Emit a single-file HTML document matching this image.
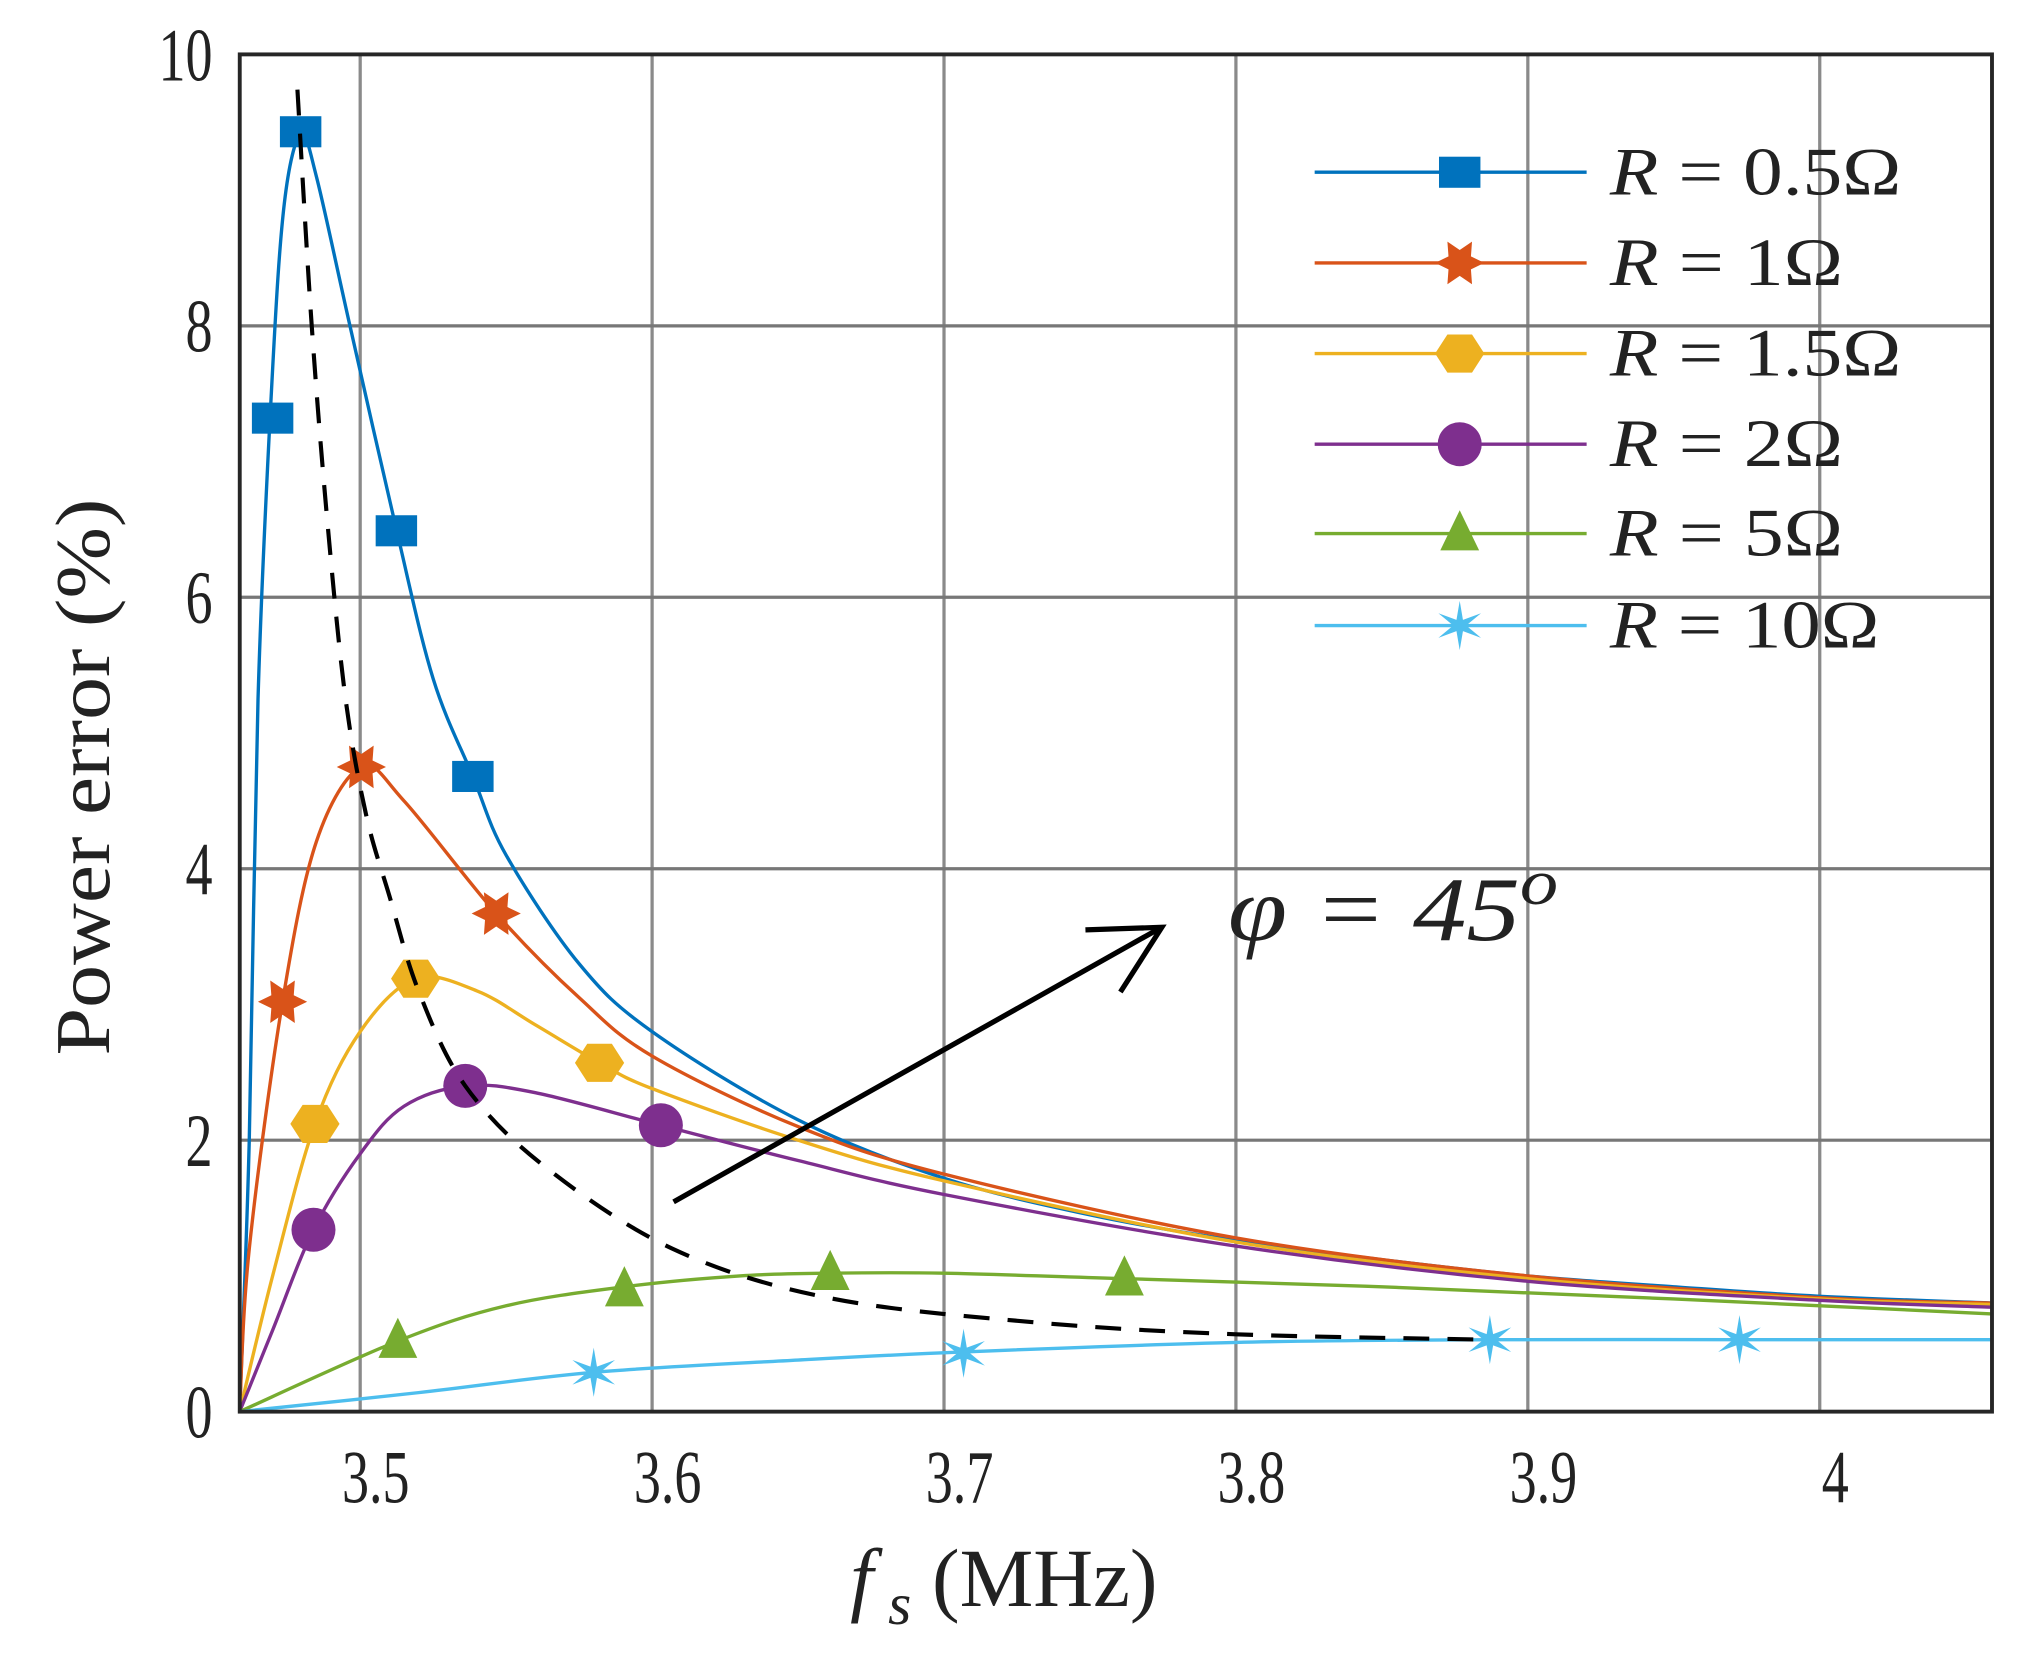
<!DOCTYPE html>
<html><head><meta charset="utf-8"><style>
html,body{margin:0;padding:0;background:#fff;}
svg{display:block;}
text{font-family:"Liberation Serif",serif;fill:#222;}
</style></head><body>
<svg id="chart" width="2031" height="1659" viewBox="0 0 1568 1281" xmlns="http://www.w3.org/2000/svg">
<g id="grid"></g>
<g id="series"></g>
<g id="axes"></g>
<g id="legend"></g>
<g>
  <line x1="520" y1="928" x2="895" y2="717" stroke="#000" stroke-width="4"/>
  <polyline points="838,718 897,716 865,766" fill="none" stroke="#000" stroke-width="4"/>
  <text x="948" y="726" font-size="70" font-style="italic" fill="#000" textLength="255" lengthAdjust="spacingAndGlyphs">φ = 45<tspan font-size="50" dy="-28">o</tspan></text>
</g>
<text font-size="60" text-anchor="middle" textLength="430" lengthAdjust="spacingAndGlyphs" transform="translate(84,600) rotate(-90)">Power error (%)</text>
<text font-size="64" text-anchor="middle" transform="translate(775,1240)"><tspan font-style="italic">f</tspan><tspan font-style="italic" font-size="46" dy="14"> s</tspan><tspan dy="-14"> (MHz)</tspan></text>
</svg>
<script>
const xTicks=[3.5,3.6,3.7,3.8,3.9,4.0];
const xTickLabels=["3.5","3.6","3.7","3.8","3.9","4"];
const yTicks=[0,2,4,6,8,10];
const yTickLabels=["0","2","4","6","8","10"];
const seriesNames=["R = 0.5Ω","R = 1Ω","R = 1.5Ω","R = 2Ω","R = 5Ω","R = 10Ω"];
const f05=[3.4587,3.462,3.465,3.4698,3.474,3.4796,3.485,3.4965,3.5124,3.525,3.5386,3.55,3.575,3.6,3.65,3.7,3.75,3.8,3.85,3.9,3.95,4.0,4.059];
const v05=[0,2.0,5.25,7.6,8.9,9.41,9.1,8.0,6.5,5.4,4.68,4.1,3.3,2.8,2.15,1.72,1.45,1.26,1.12,1.0,0.92,0.85,0.8];
const m05=[3.470,3.4796,3.5124,3.5386];
const mv05=[7.32,9.43,6.49,4.68];
const f1=[3.4587,3.462,3.4734,3.485,3.5004,3.515,3.5466,3.575,3.6,3.65,3.7,3.8,3.9,4.0,4.059];
const v1=[0,1.2,3.02,4.2,4.75,4.5,3.67,3.05,2.62,2.1,1.75,1.28,1.0,0.84,0.8];
const m1=[3.4734,3.5004,3.5466];
const mv1=[3.02,4.75,3.67];
const f15=[3.4587,3.47,3.4845,3.5,3.519,3.54,3.56,3.582,3.6,3.65,3.7,3.8,3.9,4.0,4.059];
const v15=[0,1.0,2.12,2.8,3.19,3.1,2.85,2.57,2.38,2.0,1.7,1.25,0.98,0.83,0.79];
const m15=[3.4845,3.519,3.582];
const mv15=[2.12,3.19,2.57];
const f2=[3.4587,3.47,3.484,3.5,3.515,3.536,3.56,3.603,3.65,3.7,3.8,3.9,4.0,4.059];
const v2=[0,0.6,1.34,1.9,2.25,2.4,2.35,2.11,1.85,1.6,1.22,0.96,0.82,0.77];
const m2=[3.484,3.536,3.603];
const mv2=[1.34,2.4,2.11];
const f5=[3.4587,3.5129,3.55,3.5905,3.63,3.661,3.7,3.7618,3.85,3.95,4.059];
const v5=[0,0.52,0.78,0.92,1.0,1.02,1.02,0.98,0.92,0.83,0.72];
const m5=[3.5129,3.5905,3.661,3.7618];
const mv5=[0.52,0.9,1.02,0.98];
const f10=[3.4587,3.52,3.58,3.65,3.7067,3.8,3.887,3.9725,4.059];
const v10=[0,0.14,0.29,0.38,0.44,0.51,0.53,0.53,0.53];
const m10=[3.58,3.7067,3.887,3.9725];
const mv10=[0.29,0.43,0.53,0.53];
const fDash=[3.4785,3.4834,3.489,3.495,3.502,3.51,3.52,3.536,3.563,3.607,3.66,3.73,3.80,3.887];
const vDash=[9.74,8.0,6.5,5.25,4.4,3.8,3.1,2.4,1.81,1.2,0.84,0.66,0.57,0.53];

const NS="http://www.w3.org/2000/svg";
const L=185,R=1538,T=42,B=1090;
const xMin=3.5-(278-185)/2254,xMax=3.5+(1538-278)/2254;
const X=f=>L+(f-xMin)/(xMax-xMin)*(R-L);
const Y=v=>B-v/10*(B-T);
function mk(tag,attrs,parent){const e=document.createElementNS(NS,tag);for(const k in attrs)e.setAttribute(k,attrs[k]);parent.appendChild(e);return e;}
const grid=document.getElementById('grid'),axes=document.getElementById('axes'),ser=document.getElementById('series'),leg=document.getElementById('legend');

xTicks.forEach((t,i)=>{
  const g=mk('line',{x1:X(t),x2:X(t),y1:T,y2:B,stroke:'#8a8a8a','stroke-width':2.5},grid);
  
  
  const tx=mk('text',{x:0,y:0,'font-size':58,'text-anchor':'middle',transform:`translate(${X(t)+12},1160) scale(0.72,1)`},axes);
  tx.textContent=xTickLabels[i];
  
  
});
yTicks.forEach((t,i)=>{
  if(t>0&&t<10){const g=mk('line',{x1:L,x2:R,y1:Y(t),y2:Y(t),stroke:'#777','stroke-width':2.5},grid);
  
  }
  const tx=mk('text',{x:0,y:0,'font-size':58,'text-anchor':'end',transform:`translate(164,${Y(t)+20}) scale(0.72,1)`},axes);
  tx.textContent=yTickLabels[i];
  
  
});
const box=mk('rect',{x:L,y:T,width:R-L,height:B-T,fill:'none',stroke:'#262626','stroke-width':3},axes);



function smooth(fs,vs){
  const p=fs.map((f,i)=>[X(f),Y(vs[i])]);
  let d=`M${p[0][0]},${p[0][1]}`;
  for(let i=0;i<p.length-1;i++){
    const p0=p[i-1]||p[i],p1=p[i],p2=p[i+1],p3=p[i+2]||p2;
    const c1=[p1[0]+(p2[0]-p0[0])/6,p1[1]+(p2[1]-p0[1])/6];
    const c2=[p2[0]-(p3[0]-p1[0])/6,p2[1]-(p3[1]-p1[1])/6];
    d+=` C${c1[0]},${c1[1]} ${c2[0]},${c2[1]} ${p2[0]},${p2[1]}`;
  }
  return d;
}
function star(cx,cy,n,ro,ri,sy){let pts=[];for(let i=0;i<2*n;i++){const a=-Math.PI/2+i*Math.PI/n;const r=i%2?ri:ro;pts.push((cx+r*Math.cos(a))+','+(cy+r*Math.sin(a)*sy));}return pts.join(' ');}
function marker(type,cx,cy,color,parent){
  let e;
  if(type==='square')e=mk('rect',{x:cx-16,y:cy-12,width:32,height:24,fill:color},parent);
  else if(type==='hexagram')e=mk('polygon',{points:star(cx,cy,6,19,10,1),fill:color,transform:`rotate(30 ${cx} ${cy})`},parent);
  else if(type==='hexagon')e=mk('polygon',{points:[0,1,2,3,4,5].map(i=>{const a=i*Math.PI/3;return (cx+19*Math.cos(a))+','+(cy+17*Math.sin(a));}).join(' '),fill:color},parent);
  else if(type==='circle')e=mk('ellipse',{cx:cx,cy:cy,rx:17,ry:17,fill:color},parent);
  else if(type==='triangle')e=mk('polygon',{points:`${cx},${cy-18} ${cx+15},${cy+13} ${cx-15},${cy+13}`,fill:color},parent);
  else e=mk('polygon',{points:star(cx,cy,6,19,5,1),fill:color},parent);
  return e;
}
const S=[
 {f:f05,v:v05,m:m05,mv:mv05,c:'#0072BD',t:'square'},
 {f:f1,v:v1,m:m1,mv:mv1,c:'#D95319',t:'hexagram'},
 {f:f15,v:v15,m:m15,mv:mv15,c:'#EDB120',t:'hexagon'},
 {f:f2,v:v2,m:m2,mv:mv2,c:'#7E2F8E',t:'circle'},
 {f:f5,v:v5,m:m5,mv:mv5,c:'#77AC30',t:'triangle'},
 {f:f10,v:v10,m:m10,mv:mv10,c:'#4DBEEE',t:'asterisk'}
];
S.forEach((s,k)=>{
  const g=mk('g',{},ser);
  
  
  const p=mk('path',{d:smooth(s.f,s.v),fill:'none',stroke:s.c,'stroke-width':2.6},g);
  
  
  s.m.forEach((f,i)=>{const e=marker(s.t,X(f),Y(s.mv[i]),s.c,g);
    
    });
});
const dp=mk('path',{d:smooth(fDash,vDash),fill:'none',stroke:'#000','stroke-width':3.2,'stroke-dasharray':'20 14'},ser);



const ly=[133,203,273,343,412,483];
const lw=[225,180,225,180,180,208];
S.forEach((s,k)=>{
  const g=mk('g',{},leg);
  
  
  mk('line',{x1:1015,x2:1225,y1:ly[k],y2:ly[k],stroke:s.c,'stroke-width':2.6},g);
  marker(s.t,1127,ly[k],s.c,g);
  const tx=mk('text',{x:1243,y:ly[k]+17,'font-size':52,fill:'#111',textLength:lw[k],lengthAdjust:'spacingAndGlyphs'},g);
  const parts=seriesNames[k].split(' ');
  tx.innerHTML=`<tspan font-style="italic">R</tspan>  =  ${parts[2]}`;
});
</script>
</body></html>
